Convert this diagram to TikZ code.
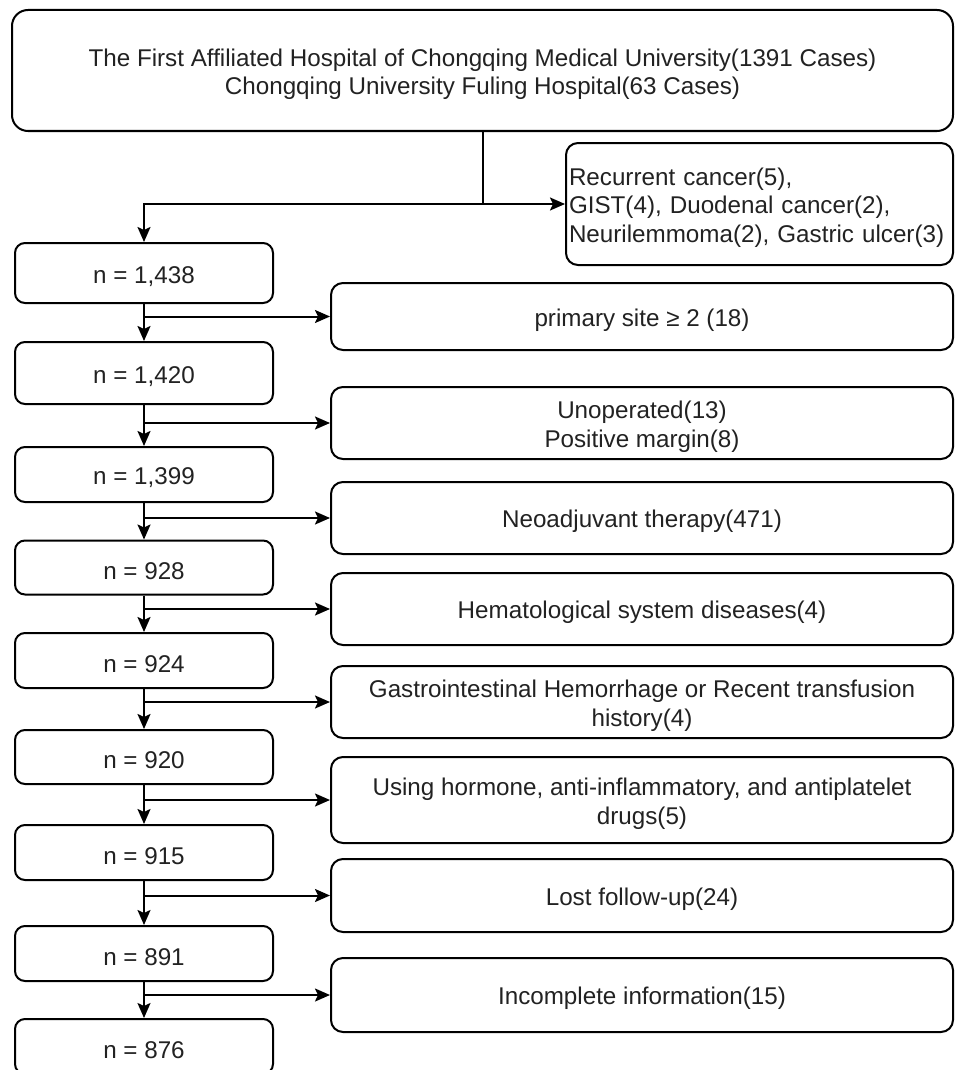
\documentclass[tikz,border=0pt]{standalone}
\usepackage{fontspec}
\setmainfont{Liberation Sans}
\usetikzlibrary{arrows.meta}
\definecolor{txt}{HTML}{222222}
\tikzset{
  box/.style={draw=black, line width=2pt, rounded corners=10pt, fill=white, inner sep=0pt},
  lbl/.style={yshift=-3.5pt, text=txt, font=\fontsize{24.2}{28.5}\selectfont, align=center, inner sep=0pt},
  nbox/.style={box, minimum width=258pt},
  ebox/.style={box, minimum width=622pt, rounded corners=12pt},
  arr/.style={draw=black, line width=2pt, -{Stealth[length=15pt,width=13pt,inset=3pt]}},
  ln/.style={draw=black, line width=2pt}
}
\begin{document}
\begin{tikzpicture}[x=1pt,y=-1pt]
\useasboundingbox (0,0) rectangle (954,1070);
\clip (0,0) rectangle (954,1070);
\fill[white] (0,0) rectangle (954,1070);

\node[box, rounded corners=16pt, minimum width=941pt, minimum height=121pt,
  label={[lbl]center:The First Affiliated Hospital of Chongqing Medical University(1391 Cases)\\Chongqing University Fuling Hospital(63 Cases)}] (top) at (482.5,70.5) {};

\node[box, rounded corners=12pt, minimum width=387pt, minimum height=122pt,
  label={[lbl, align=left, text width=381pt]center:Recurrent cancer(5),\\GIST(4), Duodenal cancer(2),\\Neurilemmoma(2), Gastric ulcer(3)}] (e0) at (759.5,204) {};

\node[nbox, minimum height=60pt, label={[lbl]center:n = 1,438}] (b1) at (144,273) {};
\node[nbox, minimum height=62pt, label={[lbl]center:n = 1,420}] (b2) at (144,373) {};
\node[nbox, minimum height=55pt, label={[lbl]center:n = 1,399}] (b3) at (144,474.5) {};
\node[nbox, minimum height=54pt, label={[lbl]center:n = 928}] (b4) at (144,567.5) {};
\node[nbox, minimum height=55pt, label={[lbl]center:n = 924}] (b5) at (144,660.5) {};
\node[nbox, minimum height=54pt, label={[lbl]center:n = 920}] (b6) at (144,757) {};
\node[nbox, minimum height=55pt, label={[lbl]center:n = 915}] (b7) at (144,852.5) {};
\node[nbox, minimum height=55pt, label={[lbl]center:n = 891}] (b8) at (144,953.5) {};
\node[nbox, minimum height=55pt, label={[lbl]center:n = 876}] (b9) at (144,1046.5) {};

\node[ebox, minimum height=67pt, label={[lbl]center:primary site ≥ 2 (18)}] (e1) at (642,316.5) {};
\node[ebox, minimum height=72pt, label={[lbl]center:Unoperated(13)\\Positive margin(8)}] (e2) at (642,423) {};
\node[ebox, minimum height=72pt, label={[lbl]center:Neoadjuvant therapy(471)}] (e3) at (642,518) {};
\node[ebox, minimum height=72pt, label={[lbl]center:Hematological system diseases(4)}] (e4) at (642,609) {};
\node[ebox, minimum height=72pt, label={[lbl]center:Gastrointestinal Hemorrhage or Recent transfusion\\history(4)}] (e5) at (642,702) {};
\node[ebox, minimum height=86pt, label={[lbl]center:Using hormone, anti-inflammatory, and antiplatelet\\drugs(5)}] (e6) at (642,800) {};
\node[ebox, minimum height=73pt, label={[lbl]center:Lost follow-up(24)}] (e7) at (642,895.5) {};
\node[ebox, minimum height=74pt, label={[lbl]center:Incomplete information(15)}] (e8) at (642,995) {};

\coordinate (j0) at (top.south |- e0.west);
\draw[ln] (top.south) -- (j0);
\draw[arr] (j0) -| (b1.north);
\draw[arr] (j0) -- (e0.west);

\foreach \i/\j in {1/2,2/3,3/4,4/5,5/6,6/7,7/8,8/9}{
  \draw[arr] (b\i.south) -- (b\j.north);
  \draw[arr] (b\i.south |- e\i.west) -- (e\i.west);
}
\end{tikzpicture}
\end{document}
